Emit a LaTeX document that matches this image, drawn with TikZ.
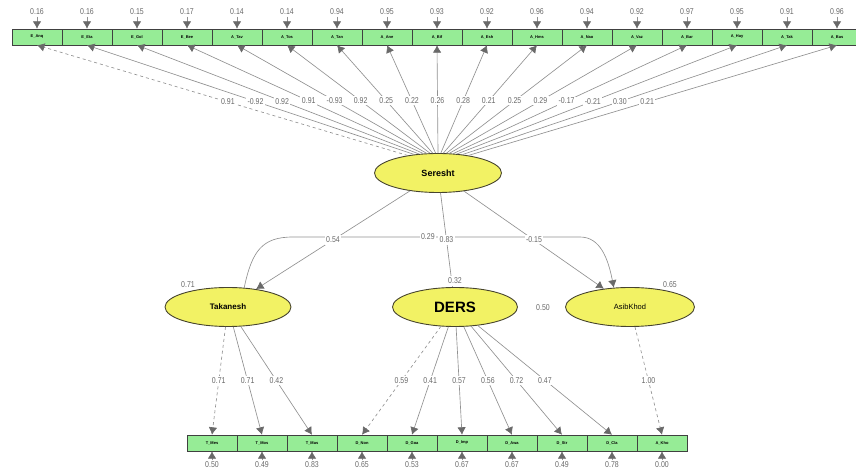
\documentclass[tikz,border=0pt]{standalone}
\usepackage{fontspec}
\setmainfont{Liberation Sans}
\newfontfamily\numfont[FakeStretch=0.82]{Liberation Sans}
\usetikzlibrary{arrows.meta,shapes.geometric}

\definecolor{boxgreen}{RGB}{150,236,150}
\definecolor{latyellow}{RGB}{242,242,100}
\definecolor{linegray}{RGB}{145,145,145}
\definecolor{tipgray}{RGB}{105,105,105}
\definecolor{numgray}{RGB}{105,105,105}

\begin{document}
\begin{tikzpicture}[x=1pt,y=1pt,
    obs/.style={draw=black!75,fill=boxgreen,minimum width=50pt,minimum height=16pt,inner sep=0pt,font=\fontsize{4}{4}\selectfont\bfseries},
    lat/.style={ellipse,draw=black!65!olive,fill=latyellow,line width=.9pt,minimum width=127pt,minimum height=39pt,inner sep=0pt},
    num/.style={text=numgray,font=\numfont\fontsize{8.5}{9}\selectfont,inner sep=1.5pt},
    lbl/.style={num,fill=white},
    path/.style={draw=linegray,line width=.65pt,-{Latex[length=7.5pt,width=8.5pt,color=tipgray]}}]
    \clip (0,0) rectangle (856,473);
    % latent variables
    \node[lat,font=\fontsize{9}{9}\selectfont\bfseries] (seresht) at (438,300) {Seresht};
    \node[lat,minimum width=126pt,font=\fontsize{8}{8}\selectfont\bfseries] (takanesh) at (228,166) {Takanesh};
    \node[lat,minimum width=125pt,font=\fontsize{15}{15}\selectfont\bfseries] (ders) at (455,166) {DERS};
    \node[lat,minimum width=129pt,font=\fontsize{7.5}{8}\selectfont] (asib) at (630,166) {AsibKhod};
    % upper indicators
    \foreach \name/\var/\load/\sty [count=\i from 0] in {E\_Anq/0.16/0.91/dashed, E\_Eta/0.16/-0.92/solid,
        E\_Gol/0.15/0.92/solid, E\_Bee/0.17/0.91/solid, A\_Tav/0.14/-0.93/solid, A\_Tos/0.14/0.92/solid,
        A\_Tan/0.94/0.25/solid, A\_Ane/0.95/0.22/solid, A\_Bif/0.93/0.26/solid, A\_Esh/0.92/0.28/solid,
        A\_Hms/0.96/0.21/solid, A\_Nao/0.94/0.25/solid, A\_Vaz/0.92/0.29/solid, A\_Bar/0.97/-0.17/solid,
        A\_Hay/0.95/-0.21/solid, A\_Tak/0.91/0.30/solid, A\_Bas/0.96/0.21/solid}{
        \pgfmathsetmacro\ang{150-7.5*\i}
        \node[obs] (top\i) at (37+50*\i,436) {\name};
        \node[num] (vt\i) at (37+50*\i,461) {\var};
        \draw[path] (vt\i) -- (top\i);
        \draw[path,\sty] (seresht.\ang) -- node[lbl,pos=.485] {\load} (top\i.south);
    }
    % lower indicators
    \foreach \name/\lv/\load/\var/\sty [count=\i from 0] in {T\_Mes/takanesh/0.71/0.50/dashed,
        T\_Mos/takanesh/0.71/0.49/solid, T\_Mas/takanesh/0.42/0.83/solid, D\_Non/ders/0.59/0.65/dashed,
        D\_Goa/ders/0.41/0.53/solid, D\_Imp/ders/0.57/0.67/solid, D\_Awa/ders/0.56/0.67/solid,
        D\_Str/ders/0.72/0.49/solid, D\_Cla/ders/0.47/0.78/solid, A\_Kho/asib/1.00/0.00/dashed}{
        \node[obs] (bot\i) at (212+50*\i,30) {\name};
        \node[num] (vb\i) at (212+50*\i,8) {\var};
        \draw[path] (vb\i) -- (bot\i);
        \draw[path,\sty] (\lv) -- node[lbl,pos=.5] {\load} (bot\i.north);
    }
    % structural paths
    \draw[path] (takanesh.50) .. controls (252,222) and (262,236) .. (293,236)
        -- node[lbl,pos=.47] {0.29} (580,236) .. controls (600,236) and (608,215) .. (asib.130);
    \draw[path] (seresht) -- node[lbl] {0.54} (takanesh);
    \draw[path] (seresht) -- node[lbl] {0.83} (ders);
    \draw[path] (seresht) -- node[lbl] {-0.15} (asib);
    \node[num] (rtak) at (188,188) {0.71};
    \node[lbl] (rders) at (455,192) {0.32};
    \node[num] (rasib) at (670,188) {0.65};
    \node[num] (dasib) at (543,165) {0.50};
\end{tikzpicture}
\end{document}
